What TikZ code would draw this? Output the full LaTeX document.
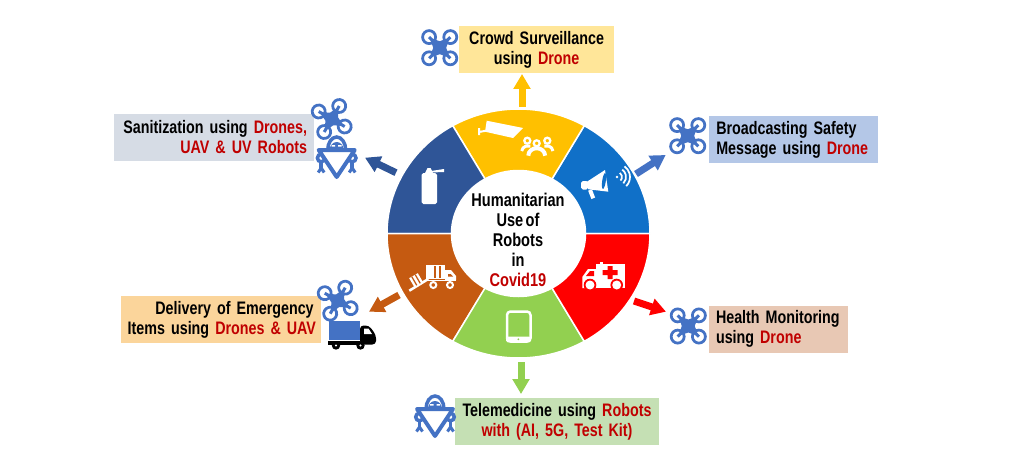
\documentclass[tikz,border=0pt]{standalone}
\usepackage{fontspec}
\setmainfont{Liberation Sans}[FakeStretch=0.79,WordSpace=0.6]
\usetikzlibrary{arrows.meta}
\definecolor{dronecol}{HTML}{4472C4}
\definecolor{wordred}{HTML}{C00000}
\definecolor{segblue}{HTML}{1070C8}
\definecolor{segyellow}{HTML}{FFC000}
\definecolor{segnavy}{HTML}{2F5597}
\definecolor{segorange}{HTML}{C55A11}
\definecolor{seggreen}{HTML}{92D050}
\definecolor{segred}{HTML}{FF0000}
\definecolor{boxyellow}{HTML}{FFE699}
\definecolor{boxgrey}{HTML}{D6DCE5}
\definecolor{boxpeach}{HTML}{FBD59B}
\definecolor{boxblue}{HTML}{B4C7E7}
\definecolor{boxrose}{HTML}{E8C8B4}
\definecolor{boxgreen}{HTML}{C5E0B4}
\newcommand{\rd}[1]{\textcolor{wordred}{#1}}
\tikzset{
  infobox/.style={inner xsep=1.4mm, inner ysep=0pt, minimum height=9.3mm,
    font=\fontsize{10.3}{11.4}\selectfont\bfseries},
  flowarrow/.style={line width=1.4mm, -{Triangle[length=3mm,width=3.3mm]}},
  drone/.pic={
    \foreach \ang in {45,135,225,315} {
      \draw[dronecol, line width=.55mm, fill=white] (\ang:15) circle (6.5);
    }
    \fill[dronecol] (45:14) -- (90:6.5) -- (135:14) -- (180:6.5) -- (225:14)
      -- (270:6.5) -- (315:14) -- (0:6.5) -- cycle;
    \foreach \ang in {45,135,225,315} {
      \draw[dronecol, line width=.6mm] (\ang:8) -- (\ang:15);
    }
  },
  robot/.pic={
    \draw[dronecol, line width=.7mm, fill=white] (-9,0) arc[start angle=180, end angle=0, x radius=9, y radius=13];
    \fill[dronecol] (-7,0) arc[start angle=180, end angle=0, x radius=7, y radius=8] -- cycle;
    \fill[white] (-5,3.5) rectangle (-1.5,5) (1.5,3.5) rectangle (5,5);
    \foreach \s in {-1,1} {
      \draw[dronecol, line width=.7mm] (\s*15.5,-12) -- (\s*15.5,-18);
      \draw[dronecol, line width=.6mm] (\s*12.5,-22.5) -- (\s*15.5,-18) -- (\s*18.5,-22.5);
      \draw[dronecol, line width=.7mm, fill=white] (\s*15.5,-8) circle (3.8);
    }
    \draw[dronecol, line width=.8mm, fill=white, line join=round] (-18,0) -- (18,0) -- (0,-27) -- cycle;
  },
  lorry/.pic={
    \fill[dronecol] (0,0) rectangle (30.5,19.5);
    \fill[black] (-.7,-4.5) rectangle (31,-.5);
    \fill[black, rounded corners=2pt] (31,-4.5) -- (31,14.5) -- (40,14.5) -- (47,5) -- (47,-4.5) -- cycle;
    \fill[white] (35,11.5) -- (39.5,11.5) -- (43,6) -- (35,6) -- cycle;
    \fill[black] (7,-5.5) circle (4.2) (31.5,-5.5) circle (4.2);
    \fill[white] (7,-5.5) circle (1.2) (31.5,-5.5) circle (1.2);
  },
}
\begin{document}
\begin{tikzpicture}[x=0.02cm,y=0.02cm]
  \useasboundingbox (0,0) rectangle (1024,464);
  % ring
  \begin{scope}[shift={(518.5,230.5)}]
    \foreach \col [count=\n] in {segblue,segyellow,segnavy,segorange,seggreen,segred} {
      \pgfmathsetmacro{\angA}{60*(\n-1)}
      \pgfmathsetmacro{\angB}{60*\n}
      \filldraw[fill=\col, draw=white, line width=.3mm]
        (\angA:131.5 and 124.5) arc[start angle=\angA, end angle=\angB, x radius=131.5, y radius=124.5]
        -- (\angB:67 and 63) arc[start angle=\angB, end angle=\angA, x radius=67, y radius=63] -- cycle;
    }
  \end{scope}
  \node[font=\fontsize{10.5}{11.4}\selectfont\bfseries, align=center, inner sep=0pt] (hub) at (518,224)
    {Humanitarian\\Use of\\Robots\\in\\\rd{Covid19}};
  % camera and people
  \fill[white] (486.7,343.3) -- (523,336) -- (513,326) -- (485,332.3) -- cycle;
  \draw[white, line width=.4mm] (479,336) -- (479,329) (479,332) -- (490,334);
  \foreach \px in {527.3,547.3} {
    \draw[white, line width=.45mm] (\px,323.3) circle (3);
  }
  \draw[white, line width=.6mm] (521.7,313) arc[start angle=170, end angle=70, radius=6.5];
  \draw[white, line width=.6mm] (553,313) arc[start angle=10, end angle=110, radius=6.5];
  \draw[white, line width=.45mm] (536.7,320.7) circle (3);
  \draw[white, line width=.8mm] (528.3,308.3) arc[start angle=180, end angle=0, x radius=8.4, y radius=7.5];
  % spray can
  \fill[white, rounded corners=1pt] (421.7,260) rectangle (437,291);
  \fill[white] (425,291) -- (433,291) -- (430.5,296) -- (427.5,296) -- cycle;
  \fill[white] (431,293) -- (444,295) -- (444,292) -- (431,291.5) -- cycle;
  % megaphone
  \fill[white] (587,282.3) -- (605,294) -- (608.3,272.3) -- (588.3,274.7) -- cycle;
  \fill[white, rounded corners=1pt] (581,274.5) rectangle (588,283);
  \draw[white, line width=.8mm] (590,274) -- (593.3,265.7);
  \fill[segblue, rotate around={-8:(604,283)}] (604,283) ellipse (1.8 and 8);
  \fill[white] (617,287) circle (1.4);
  \foreach \r in {5,9,13} {
    \draw[white, line width=.35mm] (617,287) ++(-45:\r) arc[start angle=-45, end angle=55, radius=\r];
  }
  % lorry with ramp
  \fill[white] (426,185) rectangle (445,199);
  \draw[segorange, line width=.3mm] (435,186) -- (435,198) (440,186) -- (440,198);
  \fill[white] (445,184) -- (445,194) -- (451,194) -- (456,188) -- (456,184) -- cycle;
  \fill[white] (424,183) rectangle (456,184.5);
  \fill[segorange] (448,190) -- (450.5,190) -- (453,187.5) -- (448,187.5) -- cycle;
  \foreach \wx in {433.3,450} {
    \draw[white, line width=.4mm, fill=segorange] (\wx,179) circle (3);
  }
  \draw[white, line width=.5mm] (409.3,173.3) -- (428.3,185);
  \fill[white, rotate around={30:(416,184)}] (411,179) rectangle (421,189);
  \draw[segorange, line width=.25mm, rotate around={30:(416,184)}] (414,179) -- (414,189) (418,179) -- (418,189);
  % tablet
  \draw[white, line width=.5mm, rounded corners=2pt] (507,122.5) rectangle (530.5,152.5);
  \fill[white, rounded corners=1pt] (506,121.7) rectangle (531,127.5);
  \fill[seggreen] (518.3,124.7) circle (1);
  % ambulance
  \fill[white] (595.7,176) rectangle (625,199.7);
  \fill[white] (596,176) -- (582.3,176) -- (582.3,187) -- (588,195) -- (596,195) -- cycle;
  \fill[red] (586,188) -- (590,193) -- (594,193) -- (594,188) -- cycle;
  \fill[white] (599.5,199) rectangle (602.5,202);
  \fill[red] (607.5,185) rectangle (612.5,198) (602.5,189) rectangle (617.5,194);
  \foreach \wx in {590,616.7} {
    \fill[red] (\wx,179) circle (6.3);
    \fill[white] (\wx,179) circle (4.5);
  }
  % labels
  \node[infobox, fill=boxyellow, text width=28.3mm, align=center] (crowd) at (536.6,414.6)
    {\mbox{Crowd Surveillance}\\using \rd{Drone}};
  \node[infobox, fill=boxgrey, text width=37.2mm, align=right] (sanit) at (214,326.6)
    {\mbox{Sanitization using \rd{Drones,}}\\\rd{UAV \& UV Robots}};
  \node[infobox, fill=boxpeach, text width=37.2mm, align=right] (deliv) at (220.7,144.6)
    {\mbox{Delivery of Emergency}\\\mbox{Items using \rd{Drones \& UAV}}};
  \node[infobox, fill=boxblue, text width=30.9mm, align=left] (broad) at (793.5,324.5)
    {\mbox{Broadcasting Safety}\\\mbox{Message using \rd{Drone}}};
  \node[infobox, fill=boxrose, text width=25mm, align=left] (health) at (778.5,134.7)
    {\mbox{Health Monitoring}\\using \rd{Drone}};
  \node[infobox, fill=boxgreen, text width=38mm, align=center] (tele) at (557,42.6)
    {\mbox{Telemedicine using \rd{Robots}}\\\rd{with (AI, 5G, Test Kit)}};
  % icons
  \pic at (439.7,416.3) {drone};
  \pic[rotate=15] at (331.7,345) {drone};
  \pic at (687.7,328.3) {drone};
  \pic at (688.3,138) {drone};
  \pic[rotate=15] at (337.7,163.3) {drone};
  \pic at (336.7,314) {robot};
  \pic at (435,55) {robot};
  \pic at (329,124) {lorry};
  % arrows
  \coordinate (crowdA) at (522,357.3);
  \coordinate (crowdB) at (522,390);
  \coordinate (sanitA) at (396,291.3);
  \coordinate (sanitB) at (365,306.3);
  \coordinate (broadA) at (636,290);
  \coordinate (broadB) at (665.7,309);
  \coordinate (healthA) at (634,163);
  \coordinate (healthB) at (666,152.3);
  \coordinate (delivA) at (399,169);
  \coordinate (delivB) at (369,152.3);
  \coordinate (teleA) at (521,102);
  \coordinate (teleB) at (521,70);
  \draw[flowarrow, segyellow] (crowdA) -- (crowdB);
  \draw[flowarrow, segnavy] (sanitA) -- (sanitB);
  \draw[flowarrow, dronecol] (broadA) -- (broadB);
  \draw[flowarrow, segred] (healthA) -- (healthB);
  \draw[flowarrow, segorange] (delivA) -- (delivB);
  \draw[flowarrow, seggreen] (teleA) -- (teleB);
\end{tikzpicture}
\end{document}
